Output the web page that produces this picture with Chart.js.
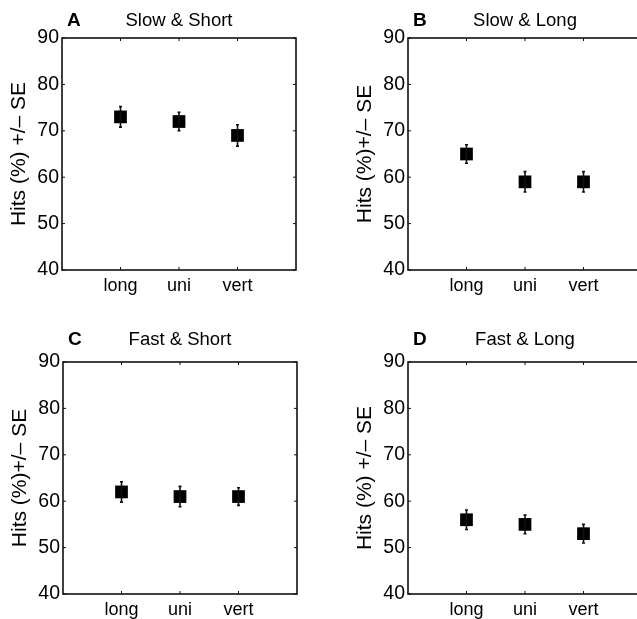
<!DOCTYPE html>
<html>
<head>
<meta charset="utf-8">
<script src="https://cdn.jsdelivr.net/npm/chart.js@4.4.0/dist/chart.umd.min.js"></script>
<style>
    html, body { margin: 0; padding: 0; background: #fff; overflow: hidden; width: 637px; height: 619px; }
    .panel { position: absolute; width: 318px; height: 300px; }
</style>
</head>
<body>
<div class="panel" style="left:0px; top:0px;"><canvas id="panelA"></canvas></div>
<div class="panel" style="left:346px; top:0px;"><canvas id="panelB"></canvas></div>
<div class="panel" style="left:1px; top:324px;"><canvas id="panelC"></canvas></div>
<div class="panel" style="left:346px; top:324px;"><canvas id="panelD"></canvas></div>
<script>
const categories = ['long', 'uni', 'vert'];
const yTicks = [40, 50, 60, 70, 80, 90];

const slowShortMean = [73, 72, 69];
const slowShortSE = [2.2, 2.0, 2.3];
const slowLongMean = [65, 59, 59];
const slowLongSE = [2.0, 2.2, 2.2];
const fastShortMean = [62, 61, 61];
const fastShortSE = [2.2, 2.2, 1.9];
const fastLongMean = [56, 55, 53];
const fastLongSE = [2.1, 2.0, 2.0];

const fontName = "'Liberation Sans', Arial, Helvetica, sans-serif";

// frame, inward ticks, error bars and the panel title
const panelDecor = {
    id: 'panelDecor',
    afterDatasetsDraw(chart, args, opts) {
        const ctx = chart.ctx;
        const a = chart.chartArea;
        const xs = chart.scales.x;
        const ys = chart.scales.y;
        ctx.save();
        ctx.strokeStyle = '#111';

        // error bars
        ctx.lineWidth = 1.6;
        opts.mean.forEach((m, i) => {
            const px = xs.getPixelForValue(i + 1);
            const top = ys.getPixelForValue(m + opts.se[i]);
            const bot = ys.getPixelForValue(m - opts.se[i]);
            ctx.beginPath();
            ctx.moveTo(px, top); ctx.lineTo(px, bot);
            ctx.moveTo(px - 1.5, top); ctx.lineTo(px + 1.5, top);
            ctx.moveTo(px - 1.5, bot); ctx.lineTo(px + 1.5, bot);
            ctx.stroke();
        });

        // frame
        ctx.lineWidth = 1.6;
        ctx.strokeRect(a.left, a.top, a.right - a.left, a.bottom - a.top);

        // ticks pointing in
        ctx.lineWidth = 1;
        ctx.beginPath();
        yTicks.forEach(v => {
            const py = ys.getPixelForValue(v);
            ctx.moveTo(a.left, py); ctx.lineTo(a.left + 3, py);
            ctx.moveTo(a.right, py); ctx.lineTo(a.right - 3, py);
        });
        categories.forEach((c, i) => {
            const px = xs.getPixelForValue(i + 1);
            ctx.moveTo(px, a.bottom); ctx.lineTo(px, a.bottom - 3);
            ctx.moveTo(px, a.top); ctx.lineTo(px, a.top + 3);
        });
        ctx.stroke();

        // title
        ctx.fillStyle = '#000';
        ctx.textBaseline = 'alphabetic';
        ctx.textAlign = 'left';
        ctx.font = 'bold 19px ' + fontName;
        ctx.fillText(opts.letter, a.left + 5, a.top - opts.gap);
        ctx.textAlign = 'center';
        ctx.font = '18.5px ' + fontName;
        ctx.fillText(opts.title, (a.left + a.right) / 2, a.top - opts.gap);
        ctx.restore();
    }
};

function makePanel(canvasId, letter, title, yLabel, mean, se, gap) {
    new Chart(document.getElementById(canvasId), {
        type: 'scatter',
        data: {
            datasets: [{
                data: mean.map((m, i) => ({ x: i + 1, y: m })),
                pointStyle: 'rect',
                pointRadius: 9,
                pointHoverRadius: 9,
                backgroundColor: '#000',
                borderColor: '#000',
                borderWidth: 0
            }]
        },
        options: {
            responsive: false,
            animation: false,
            layout: { padding: { left: 0, right: 22, top: 38, bottom: 0 } },
            plugins: {
                legend: { display: false },
                tooltip: { enabled: false },
                panelDecor: { letter: letter, title: title, mean: mean, se: se, gap: gap }
            },
            scales: {
                x: {
                    type: 'linear',
                    min: 0,
                    max: 4,
                    grid: { display: false, drawTicks: false },
                    border: { display: false },
                    afterBuildTicks: (s) => { s.ticks = categories.map((c, i) => ({ value: i + 1 })); },
                    afterFit: (s) => { s.height = 30; },
                    ticks: {
                        padding: 5,
                        color: '#000',
                        font: { family: fontName, size: 18 },
                        callback: (v) => categories[v - 1]
                    }
                },
                y: {
                    min: 40,
                    max: 90,
                    grid: { display: false, drawTicks: false },
                    border: { display: false },
                    afterBuildTicks: (s) => { s.ticks = yTicks.map(v => ({ value: v })); },
                    afterFit: (s) => { s.width = 62; },
                    ticks: {
                        padding: 3,
                        color: '#000',
                        font: { family: fontName, size: 19.5 }
                    },
                    title: {
                        display: true,
                        text: yLabel,
                        color: '#000',
                        padding: { top: 7, bottom: 0 },
                        font: { family: fontName, size: 21 }
                    }
                }
            }
        },
        plugins: [panelDecor]
    });
}

document.querySelectorAll('canvas').forEach(c => { c.width = 318; c.height = 300; });

makePanel('panelA', 'A', 'Slow & Short', 'Hits (%) +/\u2013 SE', slowShortMean, slowShortSE, 12);
makePanel('panelB', 'B', 'Slow & Long', 'Hits (%)+/\u2013 SE', slowLongMean, slowLongSE, 12);
makePanel('panelC', 'C', 'Fast & Short', 'Hits (%)+/\u2013 SE', fastShortMean, fastShortSE, 17);
makePanel('panelD', 'D', 'Fast & Long', 'Hits (%) +/\u2013 SE', fastLongMean, fastLongSE, 17);
</script>
</body>
</html>
